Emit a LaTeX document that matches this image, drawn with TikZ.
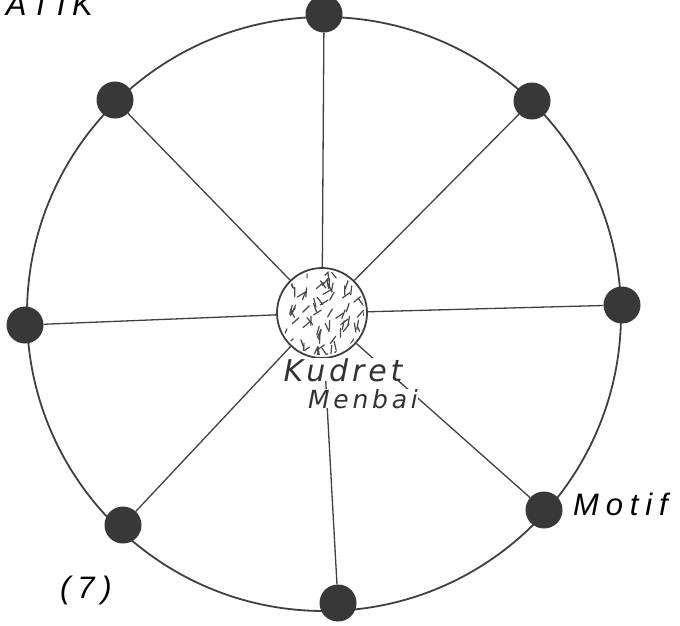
\documentclass[tikz,border=0pt]{standalone}
\usepackage{fontspec}
\setmainfont{Liberation Sans}
\newfontfamily\figfont[LetterSpace=22]{Liberation Sans}
\newfontfamily\handfont{DejaVu Sans}
\usetikzlibrary{positioning}
\tikzset{
  figdot/.style={circle, fill=black!78, inner sep=0pt, minimum size=37pt},
  figspoke/.style={draw=black!75, line width=1.3pt},
  figrim/.style={draw=black!75, line width=1.8pt},
  fighub/.style={circle, draw=black!75, line width=1.8pt, fill=white,
    minimum size=90pt, inner sep=0pt},
  figlabel/.style={font=\figfont\itshape\fontsize{31}{34}\selectfont, inner sep=0pt},
  fighand/.style={font=\handfont\itshape, fill=white, inner sep=0pt,
    text=black!80, anchor=base},
}

\begin{document}
\begin{tikzpicture}[x=1pt, y=-1pt]
  \useasboundingbox (0,0) rectangle (680,625);
  \fill[white] (0,0) rectangle (680,625);
  % outer ring
  \draw[figrim] (324,314) circle[radius=297];
  % the source in the middle
  \node[fighub] (hub) at (322,313) {};
  \begin{scope}
    \clip (hub.center) circle[radius=42];
    \pgfmathsetseed{17}
    \foreach \i in {1,...,120} {
      \pgfmathsetmacro{\hx}{322+46*rand}
      \pgfmathsetmacro{\hy}{313+46*rand}
      \pgfmathsetmacro{\ha}{100+50*rand}
      \draw[black!72, line width=1.2pt, line cap=round] (\hx,\hy) -- ++(\ha:9);
    }
  \end{scope}
  % motifs round the ring
  \node[figdot] (dtop)      at (324,14)  {};
  \node[figdot] (dtopright) at (532,101) {};
  \node[figdot] (dright)    at (622,305) {};
  \node[figdot] (dmotif)    at (544,510) {};
  \node[figdot] (dbottom)   at (338,603) {};
  \node[figdot] (dbotleft)  at (123,525) {};
  \node[figdot] (dleft)     at (25,325)  {};
  \node[figdot] (dtopleft)  at (115,100) {};
  \foreach \d in {dtop,dtopright,dright,dmotif,dbottom,dbotleft,dleft,dtopleft}
    \draw[figspoke] (hub) -- (\d);
  % labels
  \node[fighand] (kudret) at (343,381)
    {\addfontfeature{LetterSpace=13}\fontsize{30}{32}\selectfont Kudret};
  \node[fighand] (menbai) at (363,408)
    {\addfontfeature{LetterSpace=15}\fontsize{25}{27}\selectfont Menbai};
  \node[figlabel, anchor=west] (motif) at (573,504) {Motif};
  \node[figlabel] (num) at (86,590) {(7)};
  \node[figlabel, anchor=base west] (title) at (-27,15) {MATIK};
\end{tikzpicture}
\end{document}
